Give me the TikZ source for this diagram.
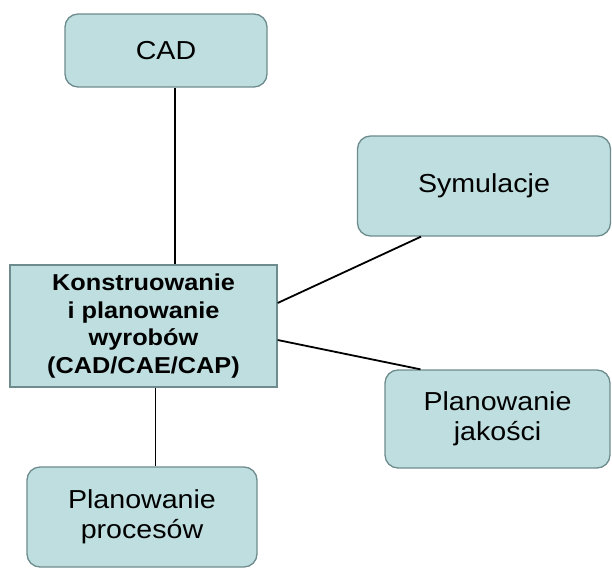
\documentclass[tikz,border=0pt]{standalone}
\usepackage{fontspec}
\setmainfont{Liberation Sans}[FakeStretch=1.1]
\begin{document}
\begin{tikzpicture}[x=1pt,y=-1pt,
  boxfill/.style={fill={rgb,255:red,191;green,222;blue,224}, draw={rgb,255:red,110;green,140;blue,142}, line width=1.3pt},
  rbox/.style={boxfill, rounded corners=13pt, align=center, inner sep=0pt, font=\fontsize{26}{30}\selectfont},
  mbox/.style={boxfill, align=center, inner sep=0pt, font=\fontsize{23}{27.5}\selectfont\bfseries},
  link/.style={draw=black, line width=1.8pt}]
\useasboundingbox (0,0) rectangle (612,569);
\node[rbox, minimum width=202pt, minimum height=73pt] (cad) at (166,50.5) {CAD};
\node[rbox, minimum width=253pt, minimum height=100pt] (sym) at (484,186) {Symulacje};
\node[rbox, minimum width=225pt, minimum height=98pt] (jak) at (497.5,419) {Planowanie\\jakości};
\node[rbox, minimum width=230pt, minimum height=100pt] (proc) at (142,517) {Planowanie\\procesów};
\node[mbox, minimum width=267pt, minimum height=122pt] (main) at (143.5,326) {Konstruowanie\\i planowanie\\wyrobów\\(CAD/CAE/CAP)};
\draw[link] ([xshift=9pt]cad.south) -- ([xshift=9pt]cad.south |- main.north);
\draw[link] ([yshift=23pt]main.east) -- ([xshift=-63pt]sym.south);
\draw[link] ([yshift=-14pt]main.east) -- ([xshift=-77pt]jak.north);
\draw[link] ([xshift=12pt]main.south) -- ([xshift=12pt]main.south |- proc.north);
\end{tikzpicture}
\end{document}
